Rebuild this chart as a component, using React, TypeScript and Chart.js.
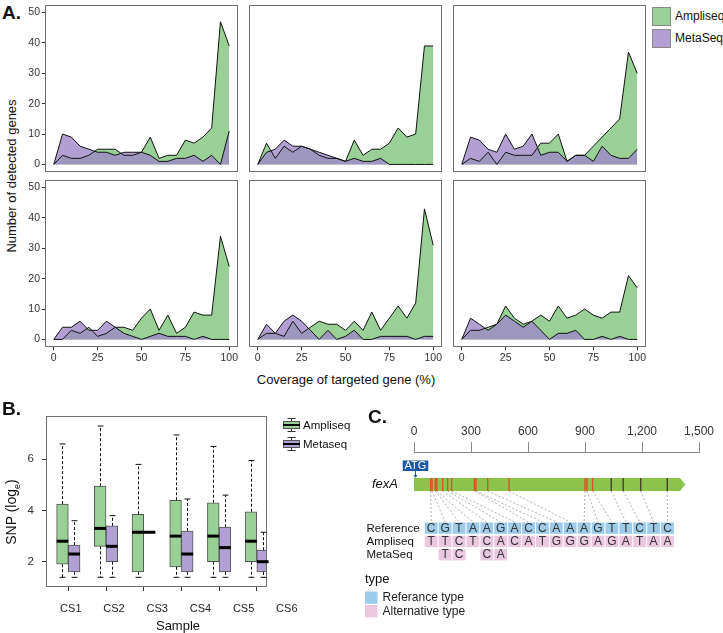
import React, { useEffect, useRef } from 'react';
import { Chart, registerables } from 'chart.js';
Chart.register(...registerables);

const FONT = '"Liberation Sans", Arial, Helvetica, sans-serif';

// ---------------- Panel A data ----------------
const coverageBins = [0, 5, 10, 15, 20, 25, 30, 35, 40, 45, 50, 55, 60, 65, 70, 75, 80, 85, 90, 95, 100];
const coverageTicks = [0, 25, 50, 75, 100];
const geneCountTicks = [0, 10, 20, 30, 40, 50];

const ampliseq1 = [0, 3, 2, 2, 3, 5, 5, 5, 3, 3, 4, 9, 2, 3, 3, 8, 7, 9, 12, 47, 39];
const metaseq1 = [0, 10, 9, 6, 5, 4, 4, 3, 4, 4, 4, 3, 1, 1, 2, 2, 3, 1, 3, 0, 11];
const ampliseq2 = [0, 7, 2, 6, 4, 6, 5, 3, 2, 2, 1, 8, 3, 5, 5, 7, 12, 9, 10, 39, 39];
const metaseq2 = [0, 4, 5, 8, 6, 6, 5, 4, 3, 2, 1, 2, 1, 1, 2, 0, 0, 0, 0, 0, 0];
const ampliseq3 = [0, 2, 1, 4, 0, 4, 3, 3, 3, 7, 7, 10, 1, 3, 3, 6, 9, 12, 15, 37, 30];
const metaseq3 = [0, 9, 8, 5, 4, 10, 5, 6, 10, 3, 4, 4, 1, 3, 3, 1, 6, 3, 2, 2, 5];
const ampliseq4 = [0, 0, 3, 2, 4, 1, 2, 4, 4, 3, 7, 10, 3, 8, 2, 4, 9, 8, 8, 34, 24];
const metaseq4 = [0, 4, 4, 6, 3, 3, 6, 4, 2, 1, 0, 1, 2, 1, 1, 1, 0, 1, 0, 0, 0];
const ampliseq5 = [0, 2, 2, 1, 6, 2, 4, 6, 5, 5, 3, 6, 3, 9, 3, 7, 11, 7, 12, 43, 31];
const metaseq5 = [0, 5, 2, 6, 8, 6, 3, 0, 3, 0, 1, 3, 0, 0, 1, 1, 1, 1, 0, 1, 1];
const ampliseq6 = [0, 3, 3, 4, 5, 11, 7, 5, 6, 8, 6, 11, 7, 8, 10, 8, 7, 9, 9, 21, 17];
const metaseq6 = [0, 7, 5, 3, 5, 8, 6, 4, 6, 3, 0, 2, 2, 3, 0, 0, 1, 0, 1, 0, 0];

const seriesNames = ['Ampliseq', 'MetaSeq'];

// ---------------- Panel B data ----------------
const samples = ['CS1', 'CS2', 'CS3', 'CS4', 'CS5', 'CS6'];
const samplePositions = [1, 2, 3, 4, 5, 6];
const snpTicks = [2, 4, 6];
const boxSeries = ['Ampliseq', 'Metaseq'];
const ampMin = [1.39, 1.39, 1.39, 1.39, 1.39, 1.39];
const ampQ1 = [1.9, 2.6, 1.6, 1.8, 2.0, 2.0];
const ampMed = [2.8, 3.3, 3.15, 3.0, 3.0, 2.8];
const ampQ3 = [4.25, 4.95, 3.85, 4.4, 4.3, 3.95];
const ampMax = [6.6, 7.3, 5.8, 6.95, 6.5, 5.95];
const metaMin = [1.39, 1.39, 3.15, 1.39, 1.39, 1.39];
const metaQ1 = [1.6, 2.0, 3.15, 1.6, 1.6, 1.6];
const metaMed = [2.3, 2.6, 3.15, 2.3, 2.55, 2.0];
const metaQ3 = [2.65, 3.4, 3.15, 3.2, 3.35, 2.45];
const metaMax = [3.6, 3.8, 3.15, 4.45, 4.6, 3.15];

// ---------------- Panel C data ----------------
const positionTicks = [0, 300, 600, 900, 1200, 1500];
const geneBodyEnd = 1400;
const geneLength = 1428;
const snpPositions = [88, 95, 112, 120, 151, 177, 198, 318, 326, 388, 500, 900, 910, 940, 1038, 1101, 1193, 1333];
const referenceBases = ['C', 'G', 'T', 'A', 'A', 'G', 'A', 'C', 'C', 'A', 'A', 'A', 'G', 'T', 'T', 'C', 'T', 'C'];
const ampliseqBases = ['T', 'T', 'C', 'T', 'C', 'A', 'C', 'A', 'T', 'G', 'G', 'G', 'A', 'G', 'A', 'T', 'A', 'A'];
const metaseqBases = ['', 'T', 'C', '', 'C', 'A', '', '', '', '', '', '', '', '', '', '', '', ''];
const rowNames = ['Reference', 'Ampliseq', 'MetaSeq'];
const typeNames = ['Referance type', 'Alternative type'];

// ---------------- styles ----------------
const AMP_FILL = 'rgb(152,208,150)';
const META_FILL = 'rgba(159,136,201,0.8)';
const META_KEY = 'rgb(178,160,212)';
const BOX_GREEN = 'rgb(152,208,150)';
const BOX_PURPLE = 'rgb(176,160,212)';
const FRAME = '#6f6f6f';
const REF_BLUE = '#9ccbeb';
const ALT_PINK = '#ecc8e0';
const SNP_RED = '#e0502a';
const SNP_DARK = '#4b3b30';
const snpMarkColors = snpPositions.map((_, i) => (i >= 14 ? SNP_DARK : SNP_RED));

const frame = {
  id: 'frame',
  afterDatasetsDraw(chart: any) {
    const { ctx, chartArea: a } = chart;
    ctx.save();
    ctx.strokeStyle = FRAME;
    ctx.lineWidth = 1;
    ctx.strokeRect(Math.round(a.left) + 0.5, Math.round(a.top) + 0.5, Math.round(a.right - a.left) - 1, Math.round(a.bottom - a.top) - 1);
    ctx.restore();
  },
};

const fixTicks = (vals: number[]) => (s: any) => {
  s.ticks = vals.map((v) => ({ value: v }));
};

// ---------------- Panel A ----------------
const A_COL_LEFT = [45, 249, 453];
const A_ROW_TOP = [5, 180];
const A_W = 193;
const A_H = 167;
const A_YAXIS_W = 24;
const A_XAXIS_H = 20;

const panels = [
  { amp: ampliseq1, meta: metaseq1, col: 0, row: 0 },
  { amp: ampliseq2, meta: metaseq2, col: 1, row: 0 },
  { amp: ampliseq3, meta: metaseq3, col: 2, row: 0 },
  { amp: ampliseq4, meta: metaseq4, col: 0, row: 1 },
  { amp: ampliseq5, meta: metaseq5, col: 1, row: 1 },
  { amp: ampliseq6, meta: metaseq6, col: 2, row: 1 },
];

function AreaPanel({ amp, meta, col, row }: { amp: number[]; meta: number[]; col: number; row: number }) {
  const ref = useRef<HTMLCanvasElement>(null);
  const showY = col === 0;
  const showX = row === 1;
  const yW = showY ? A_YAXIS_W : 0;
  const xH = showX ? A_XAXIS_H : 0;
  const left = A_COL_LEFT[col] - yW;
  const top = A_ROW_TOP[row];
  const width = A_W + yW;
  const height = A_H + xH;
  useEffect(() => {
    const tickFont = { family: FONT, size: 10.5 };
    const chart = new Chart(ref.current as HTMLCanvasElement, {
      type: 'line',
      data: {
        datasets: [
          {
            label: seriesNames[1],
            data: coverageBins.map((x, i) => ({ x, y: meta[i] })),
            order: 1,
            fill: 'origin',
            backgroundColor: META_FILL,
            borderColor: '#111',
            borderWidth: 1,
            pointRadius: 0,
            tension: 0,
          },
          {
            label: seriesNames[0],
            data: coverageBins.map((x, i) => ({ x, y: amp[i] })),
            order: 2,
            fill: 'origin',
            backgroundColor: AMP_FILL,
            borderColor: '#111',
            borderWidth: 1,
            pointRadius: 0,
            tension: 0,
          },
        ],
      } as any,
      options: {
        responsive: false,
        animation: false,
        events: [],
        layout: { padding: 0 },
        plugins: { legend: { display: false }, tooltip: { enabled: false }, filler: { drawTime: 'beforeDatasetsDraw' } } as any,
        scales: {
          x: {
            type: 'linear',
            min: -5,
            max: 105,
            display: showX,
            afterBuildTicks: fixTicks(coverageTicks),
            afterFit: (s: any) => {
              s.height = showX ? A_XAXIS_H : 0;
              s.paddingLeft = 0;
              s.paddingRight = 0;
            },
            grid: { drawOnChartArea: false, drawTicks: true, tickLength: 3, color: '#333' },
            border: { display: false },
            ticks: { font: tickFont, color: '#333', padding: 2, maxRotation: 0, autoSkip: false },
          },
          y: {
            type: 'linear',
            min: -2.5,
            max: 52.5,
            display: showY,
            afterBuildTicks: fixTicks(geneCountTicks),
            afterFit: (s: any) => {
              s.width = showY ? A_YAXIS_W : 0;
              s.paddingTop = 0;
              s.paddingBottom = 0;
            },
            grid: { drawOnChartArea: false, drawTicks: true, tickLength: 3, color: '#333' },
            border: { display: false },
            ticks: { font: tickFont, color: '#333', padding: 2, autoSkip: false },
          },
        },
      } as any,
      plugins: [frame],
    });
    return () => chart.destroy();
  }, []);
  return <canvas ref={ref} width={width} height={height} style={{ position: 'absolute', left, top, width, height }} />;
}

// ---------------- Panel B ----------------
const B_LEFT = 0;
const B_TOP = 400;
const B_W = 360;
const B_H = 233;
const B_AREA = { left: 46, right: 267, top: 416, bottom: 587 };
const B_LABEL_STEP = 43.2;

const boxStats = [
  [ampMin, ampQ1, ampMed, ampQ3, ampMax],
  [metaMin, metaQ1, metaMed, metaQ3, metaMax],
];

const whiskerPlugin = {
  id: 'whiskers',
  afterDatasetsDraw(chart: any) {
    const { ctx } = chart;
    const ys = chart.scales.y;
    const line = (x1: number, y1: number, x2: number, y2: number) => {
      ctx.beginPath();
      ctx.moveTo(x1, y1);
      ctx.lineTo(x2, y2);
      ctx.stroke();
    };
    chart.data.datasets.forEach((_: any, di: number) => {
      const meta = chart.getDatasetMeta(di);
      meta.data.forEach((bar: any, i: number) => {
        const { x, width } = bar.getProps(['x', 'width'], true);
        const [mn, q1, md, q3, mx] = boxStats[di].map((a) => a[i]);
        const cx = Math.round(x) + 0.5;
        ctx.save();
        ctx.strokeStyle = '#111';
        ctx.lineWidth = 1;
        ctx.setLineDash([3, 2]);
        line(cx, ys.getPixelForValue(q3), cx, ys.getPixelForValue(mx));
        line(cx, ys.getPixelForValue(q1), cx, ys.getPixelForValue(mn));
        ctx.setLineDash([]);
        const cap = width * 0.25;
        if (mx > q3) line(cx - cap, ys.getPixelForValue(mx), cx + cap, ys.getPixelForValue(mx));
        if (mn < q1) line(cx - cap, ys.getPixelForValue(mn), cx + cap, ys.getPixelForValue(mn));
        ctx.lineWidth = 3;
        ctx.strokeStyle = '#000';
        line(x - width / 2, ys.getPixelForValue(md), x + width / 2, ys.getPixelForValue(md));
        ctx.restore();
      });
    });
  },
  afterDraw(chart: any) {
    const { ctx } = chart;
    const xs = chart.scales.x;
    ctx.save();
    ctx.fillStyle = '#222';
    ctx.font = `11px ${FONT}`;
    ctx.textAlign = 'center';
    ctx.textBaseline = 'middle';
    const x0 = xs.getPixelForValue(samplePositions[0]) + 2.5;
    samples.forEach((s, i) => ctx.fillText(s, x0 + i * B_LABEL_STEP, 609 - B_TOP));
    const keys = [
      { color: BOX_GREEN, top: 418 },
      { color: BOX_PURPLE, top: 437 },
    ];
    keys.forEach((k, i) => {
      const kx0 = 283 - B_LEFT;
      const kx1 = 300 - B_LEFT;
      const mid = (kx0 + kx1) / 2;
      const t = k.top - B_TOP;
      ctx.strokeStyle = '#333';
      ctx.lineWidth = 1;
      ctx.beginPath();
      ctx.moveTo(mid, t + 0.5);
      ctx.lineTo(mid, t + 13.5);
      ctx.moveTo(mid - 4, t + 0.5);
      ctx.lineTo(mid + 4, t + 0.5);
      ctx.moveTo(mid - 4, t + 13.5);
      ctx.lineTo(mid + 4, t + 13.5);
      ctx.stroke();
      ctx.fillStyle = k.color;
      ctx.fillRect(kx0, t + 3, kx1 - kx0, 8);
      ctx.strokeStyle = '#555';
      ctx.strokeRect(kx0 + 0.5, t + 3.5, kx1 - kx0 - 1, 7);
      ctx.strokeStyle = '#000';
      ctx.lineWidth = 2;
      ctx.beginPath();
      ctx.moveTo(kx0, t + 7);
      ctx.lineTo(kx1, t + 7);
      ctx.stroke();
      ctx.fillStyle = '#111';
      ctx.font = `11.5px ${FONT}`;
      ctx.textAlign = 'left';
      ctx.fillText(boxSeries[i], 303 - B_LEFT, t + 7.5);
    });
    ctx.restore();
  },
};

function BoxPanel() {
  const ref = useRef<HTMLCanvasElement>(null);
  useEffect(() => {
    const chart = new Chart(ref.current as HTMLCanvasElement, {
      type: 'bar',
      data: {
        datasets: [
          {
            label: boxSeries[0],
            data: samplePositions.map((x, i) => ({ x, y: [ampQ1[i], ampQ3[i]] })),
            backgroundColor: BOX_GREEN,
            borderColor: '#555',
            borderWidth: 1,
            borderSkipped: false,
            barThickness: 11.7,
          },
          {
            label: boxSeries[1],
            data: samplePositions.map((x, i) => ({ x, y: [metaQ1[i], metaQ3[i]] })),
            backgroundColor: BOX_PURPLE,
            borderColor: '#555',
            borderWidth: 1,
            borderSkipped: false,
            barThickness: 11.7,
          },
        ],
      } as any,
      options: {
        responsive: false,
        animation: false,
        events: [],
        layout: {
          padding: {
            left: 0,
            top: B_AREA.top - B_TOP,
            right: B_W - (B_AREA.right - B_LEFT),
            bottom: B_H - (B_AREA.bottom - B_TOP) - 5,
          },
        },
        plugins: { legend: { display: false }, tooltip: { enabled: false } },
        scales: {
          x: {
            type: 'linear',
            offset: false,
            min: 0.408,
            max: 6.27,
            afterBuildTicks: fixTicks(samplePositions),
            afterFit: (s: any) => {
              s.height = 5;
              s.paddingLeft = 0;
              s.paddingRight = 0;
            },
            grid: { offset: false, drawOnChartArea: false, tickLength: 4, color: '#333' },
            border: { display: false },
            ticks: { display: false },
          },
          y: {
            type: 'linear',
            min: 1.012,
            max: 7.69,
            afterBuildTicks: fixTicks(snpTicks),
            afterFit: (s: any) => {
              s.width = B_AREA.left - B_LEFT;
              s.paddingTop = 0;
              s.paddingBottom = 0;
            },
            grid: { drawOnChartArea: false, tickLength: 4, color: '#333' },
            border: { display: false },
            ticks: { font: { family: FONT, size: 11.5 }, color: '#333', padding: 8, autoSkip: false },
          },
        },
      } as any,
      plugins: [frame, whiskerPlugin],
    });
    return () => chart.destroy();
  }, []);
  return <canvas ref={ref} width={B_W} height={B_H} style={{ position: 'absolute', left: B_LEFT, top: B_TOP, width: B_W, height: B_H }} />;
}

// ---------------- Panel C ----------------
const C_LEFT = 360;
const C_TOP = 400;
const C_W = 363;
const C_H = 233;
const C_AXIS_Y = 452;
const C_AREA_LEFT = 414;
const C_AREA_RIGHT = 699;
const CELL_FIRST = 431.2;
const CELL_STEP = 13.9;

const geneDiagram = {
  id: 'geneDiagram',
  afterDraw(chart: any) {
    const { ctx } = chart;
    const bx = chart.scales.x;
    const cx = chart.scales.xc;
    const ys = chart.scales.y;
    const Y = (abs: number) => ys.getPixelForValue(abs - C_AXIS_Y);
    const X = (abs: number) => abs - C_LEFT;
    ctx.save();
    const g0 = bx.getPixelForValue(0);
    const g1 = bx.getPixelForValue(geneBodyEnd);
    const gt = bx.getPixelForValue(geneLength);
    const gTop = Y(478);
    const gBot = Y(491);
    ctx.fillStyle = '#8cc34b';
    ctx.beginPath();
    ctx.moveTo(g0, gTop);
    ctx.lineTo(g1, gTop);
    ctx.lineTo(gt, (gTop + gBot) / 2);
    ctx.lineTo(g1, gBot);
    ctx.lineTo(g0, gBot);
    ctx.closePath();
    ctx.fill();
    ctx.strokeStyle = '#9a9a9a';
    ctx.lineWidth = 0.8;
    ctx.setLineDash([2, 2]);
    snpPositions.forEach((p, i) => {
      ctx.beginPath();
      ctx.moveTo(bx.getPixelForValue(p), gBot);
      ctx.lineTo(cx.getPixelForValue(i), Y(522));
      ctx.stroke();
    });
    ctx.setLineDash([]);
    ctx.lineWidth = 1.4;
    snpPositions.forEach((p, i) => {
      const px = bx.getPixelForValue(p);
      ctx.strokeStyle = snpMarkColors[i];
      ctx.beginPath();
      ctx.moveTo(px, gTop);
      ctx.lineTo(px, gBot);
      ctx.stroke();
    });
    ctx.fillStyle = '#1f57a8';
    ctx.fillRect(X(402.7), Y(460.5), 25.6, 10.5);
    ctx.fillStyle = '#fff';
    ctx.font = `11px ${FONT}`;
    ctx.textAlign = 'center';
    ctx.textBaseline = 'middle';
    ctx.fillText('ATG', X(415.5), Y(466));
    ctx.strokeStyle = '#1f57a8';
    ctx.lineWidth = 1;
    ctx.beginPath();
    ctx.moveTo(g0 + 1.5, Y(471));
    ctx.lineTo(g0 + 1.5, Y(477));
    ctx.stroke();
    ctx.fillStyle = '#1f57a8';
    ctx.beginPath();
    ctx.moveTo(g0 - 0.5, Y(475));
    ctx.lineTo(g0 + 3.5, Y(475));
    ctx.lineTo(g0 + 1.5, Y(478));
    ctx.closePath();
    ctx.fill();
    ctx.fillStyle = '#111';
    ctx.font = `italic 13px ${FONT}`;
    ctx.textAlign = 'left';
    ctx.fillText('fexA', X(372), Y(484.5));
    const rows = [
      { bases: referenceBases, top: 522.5, color: REF_BLUE },
      { bases: ampliseqBases, top: 535.8, color: ALT_PINK },
      { bases: metaseqBases, top: 549.1, color: ALT_PINK },
    ];
    rows.forEach((r, ri) => {
      ctx.fillStyle = '#111';
      ctx.font = `11.5px ${FONT}`;
      ctx.textAlign = 'left';
      ctx.fillText(rowNames[ri], X(366.5), Y(r.top + 6));
      r.bases.forEach((b, i) => {
        if (!b) return;
        const c = cx.getPixelForValue(i);
        ctx.fillStyle = r.color;
        ctx.fillRect(c - 6.4, Y(r.top), 12.8, 11.3);
        ctx.fillStyle = '#333';
        ctx.font = `12px ${FONT}`;
        ctx.textAlign = 'center';
        ctx.fillText(b, c, Y(r.top + 6));
      });
    });
    ctx.fillStyle = '#111';
    ctx.textAlign = 'left';
    ctx.font = `13px ${FONT}`;
    ctx.fillText('type', X(365), Y(579));
    const typeColors = [REF_BLUE, ALT_PINK];
    typeColors.forEach((col, i) => {
      const top = 591.5 + i * 13.5;
      ctx.fillStyle = col;
      ctx.fillRect(X(365), Y(top), 12.5, 12.3);
      ctx.fillStyle = '#222';
      ctx.font = `12px ${FONT}`;
      ctx.fillText(typeNames[i], X(382.5), Y(top + 6.3));
    });
    ctx.restore();
  },
};

function GenePanel() {
  const ref = useRef<HTMLCanvasElement>(null);
  useEffect(() => {
    const chart = new Chart(ref.current as HTMLCanvasElement, {
      type: 'scatter',
      data: { datasets: [] },
      options: {
        responsive: false,
        animation: false,
        events: [],
        layout: { padding: { left: C_AREA_LEFT - C_LEFT, right: C_LEFT + C_W - C_AREA_RIGHT, top: 0, bottom: 0 } },
        plugins: { legend: { display: false }, tooltip: { enabled: false } },
        scales: {
          x: {
            type: 'linear',
            position: 'top',
            min: 0,
            max: 1500,
            afterBuildTicks: fixTicks(positionTicks),
            afterFit: (s: any) => {
              s.height = C_AXIS_Y - C_TOP;
              s.paddingLeft = 0;
              s.paddingRight = 0;
            },
            grid: { drawOnChartArea: false, tickLength: 10, color: '#8a8a8a' },
            border: { display: true, color: '#8a8a8a', width: 1 },
            ticks: { font: { family: FONT, size: 12 }, color: '#333', padding: 3, maxRotation: 0, autoSkip: false },
          },
          xc: {
            type: 'linear',
            display: false,
            min: (C_AREA_LEFT - CELL_FIRST) / CELL_STEP,
            max: (C_AREA_RIGHT - CELL_FIRST) / CELL_STEP,
          },
          y: { type: 'linear', display: false, min: 0, max: C_TOP + C_H - C_AXIS_Y, reverse: true },
        },
      } as any,
      plugins: [geneDiagram],
    });
    return () => chart.destroy();
  }, []);
  return <canvas ref={ref} width={C_W} height={C_H} style={{ position: 'absolute', left: C_LEFT, top: C_TOP, width: C_W, height: C_H }} />;
}

function Txt(props: {
  x: number;
  y: number;
  size: number;
  children: any;
  anchor?: 'start' | 'middle' | 'end';
  bold?: boolean;
  italic?: boolean;
  rotate?: number;
  color?: string;
}) {
  const { x, y, size, children, anchor = 'start', bold, italic, rotate, color = '#111' } = props;
  const tx = anchor === 'start' ? '0%' : anchor === 'middle' ? '-50%' : '-100%';
  return (
    <div
      style={{
        position: 'absolute',
        left: x,
        top: y,
        transform: `translate(${tx}, -50%)${rotate ? ` rotate(${rotate}deg)` : ''}`,
        fontFamily: FONT,
        fontSize: size,
        lineHeight: `${size}px`,
        whiteSpace: 'nowrap',
        fontWeight: bold ? 700 : 400,
        fontStyle: italic ? 'italic' : 'normal',
        color,
      }}
    >
      {children}
    </div>
  );
}

export default function App() {
  return (
    <div style={{ position: 'absolute', left: 0, top: 0, width: 723, height: 633, background: '#fff', overflow: 'hidden' }}>
      {panels.map((p, i) => (
        <AreaPanel key={i} amp={p.amp} meta={p.meta} col={p.col} row={p.row} />
      ))}
      <BoxPanel />
      <GenePanel />

      <Txt x={2} y={11.5} size={19} bold>A.</Txt>
      <Txt x={11} y={176} size={13} anchor="middle" rotate={-90}>Number of detected genes</Txt>
      <Txt x={346} y={379} size={13} anchor="middle">Coverage of targeted gene (%)</Txt>
      <div style={{ position: 'absolute', left: 652, top: 7, width: 17, height: 17, background: AMP_FILL, border: '1px solid #888' }} />
      <div style={{ position: 'absolute', left: 652, top: 29, width: 17, height: 17, background: META_KEY, border: '1px solid #888' }} />
      <Txt x={675} y={16} size={12}>{seriesNames[0]}</Txt>
      <Txt x={675} y={38} size={12}>{seriesNames[1]}</Txt>

      <Txt x={2} y={408} size={19} bold>B.</Txt>
      <Txt x={14} y={512} size={14} anchor="middle" rotate={-90}>
        SNP (log<span style={{ fontSize: 9, verticalAlign: 'sub' }}>e</span>)
      </Txt>
      <Txt x={178} y={625} size={13} anchor="middle">Sample</Txt>

      <Txt x={368} y={416} size={19} bold>C.</Txt>
    </div>
  );
}
